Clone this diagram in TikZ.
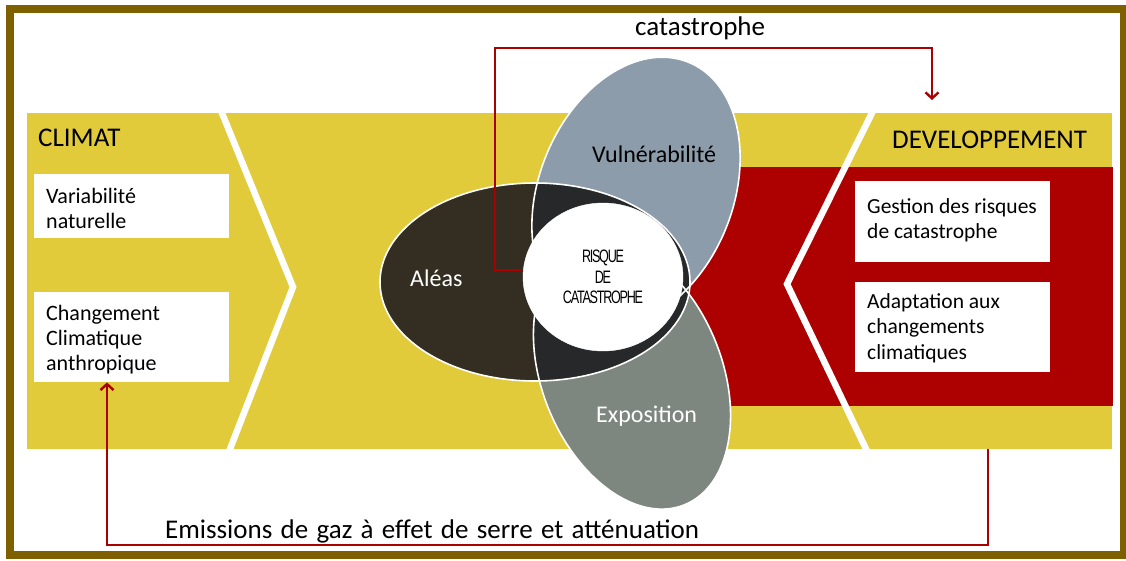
\documentclass[tikz,border=0pt]{standalone}
\usepackage{fontspec}
\setmainfont{Carlito}
\newfontfamily\arialf[LetterSpace=-10]{Liberation Sans}
\usetikzlibrary{arrows.meta,shapes.geometric}
\definecolor{bandyellow}{HTML}{E1CB3B}
\definecolor{framebrown}{HTML}{7F6000}
\definecolor{devred}{HTML}{AD0000}
\definecolor{connred}{HTML}{AA0000}
\definecolor{aleascol}{HTML}{332E21}
\definecolor{vulncol}{HTML}{8C9CAA}
\definecolor{expocol}{HTML}{7E877F}
\definecolor{ovlcol}{HTML}{26282A}
\begin{document}
\begin{tikzpicture}[x=1pt,y=-1pt,
  lbl/.style={inner sep=0pt, anchor=base west},
  whitebox/.style={fill=white, draw=none, inner sep=0pt, anchor=north west, minimum width=195pt},
  conn/.style={draw=connred, line width=2.4pt},
  tip/.style={-{Straight Barb[length=6pt,width=13pt]}},
  petal/.style={draw=white, line width=1.6pt},
  chev/.style={draw=white, line width=6.5pt, line join=miter},
  boxfont/.style={font=\fontsize{22}{25}\selectfont},
  rboxfont/.style={font=\fontsize{21.5}{25.5}\selectfont},
  bigfont/.style={font=\fontsize{27}{30}\selectfont},
  petalfont/.style={font=\fontsize{24}{28}\selectfont}]
\useasboundingbox (0,0) rectangle (1126,560);
\fill[white] (0,0) rectangle (1126,560);
% frame
\draw[framebrown, line width=8pt] (10,9) rectangle (1124,555);
% band and development block
\node[fill=bandyellow, draw=none, inner sep=0pt, anchor=north west, minimum width=1085pt, minimum height=336pt] (band) at (27,113) {};
\node[fill=devred, draw=none, inner sep=0pt, anchor=north west, minimum width=473pt, minimum height=239pt] (dev) at (640,167) {};
% chevrons
\begin{scope}
  \clip (27,113) rectangle (1112,449);
  \draw[chev] (213.8,93) -- (293,287) -- (222.2,469);
  \draw[chev] (881.9,93) -- (787,284) -- (875.6,469);
\end{scope}
% petals fills
\fill[vulncol, rotate around={68:(636,192)}] (636,192) ellipse [x radius=140, y radius=97];
\fill[expocol, rotate around={-68:(632,375)}] (632,375) ellipse [x radius=140, y radius=90];
\fill[aleascol] (535,282) ellipse [x radius=155, y radius=99];
\begin{scope}
  \clip (535,282) ellipse [x radius=155, y radius=99];
  \fill[ovlcol, rotate around={68:(636,192)}] (636,192) ellipse [x radius=140, y radius=97];
  \fill[ovlcol, rotate around={-68:(632,375)}] (632,375) ellipse [x radius=140, y radius=90];
\end{scope}
% petals outlines
\draw[petal, rotate around={68:(636,192)}] (636,192) ellipse [x radius=140, y radius=97];
\draw[petal, rotate around={-68:(632,375)}] (632,375) ellipse [x radius=140, y radius=90];
\draw[petal] (535,282) ellipse [x radius=155, y radius=99];
% petal labels
\node[lbl, petalfont, text=black] (vuln) at (592,162) {Vulnérabilité};
\node[lbl, petalfont, text=white] (aleas) at (410,286) {Aléas};
\node[lbl, petalfont, text=white] (expo) at (596,422) {Exposition};
% boxes
\node[whitebox, minimum height=64pt] (lb1) at (34,174) {};
\node[whitebox, minimum height=90pt] (lb2) at (34,292) {};
\node[whitebox, minimum height=81pt] (rb1) at (855,181) {};
\node[whitebox, minimum height=90pt] (rb2) at (855,282) {};
\node[lbl, boxfont] (lt1) at (46,203) {\parbox[t]{180pt}{Variabilité\\naturelle}};
\node[lbl, boxfont] (lt2) at (46,320) {\parbox[t]{180pt}{Changement\\Climatique\\anthropique}};
\node[lbl, rboxfont] (rt1) at (867,213) {\parbox[t]{180pt}{Gestion des risques\\de catastrophe}};
\node[lbl, rboxfont] (rt2) at (867,308) {\parbox[t]{180pt}{Adaptation aux\\changements\\climatiques}};
% titles
\node[lbl, bigfont] (climat) at (38,146) {CLIMAT};
\node[lbl, bigfont] (devel) at (892,148) {DEVELOPPEMENT};
\node[lbl, bigfont] (catas) at (635,35) {catastrophe};
\node[lbl, bigfont] (emis) at (165,538) {\spaceskip=8.3pt Emissions de gaz à effet de serre et atténuation};
% central circle (placed, drawn later)
\path (602,277) node[ellipse, minimum width=160pt, minimum height=148pt, inner sep=0pt] (circ) {};
% connectors
\coordinate (t1) at (495,48);
\coordinate (t2) at (932,48);
\coordinate (t3) at (932,100);
\draw[conn, tip] (circ.175) -- (circ.175 -| t1) -- (t1) -- (t2) -- (t3);
\coordinate (b1) at (988,449);
\coordinate (b2) at (988,545);
\coordinate (b3) at (107,545);
\draw[conn, tip] (b1) -- (b2) -- (b3) -- (b3 |- lb2.south);
% circle on top
\node[ellipse, fill=white, draw=white, minimum width=160pt, minimum height=148pt, inner sep=0pt, align=center,
  font=\arialf\fontsize{18}{20.5}\selectfont] (circtext) at (603,277)
  {\scalebox{0.7}[1]{RISQUE}\\\scalebox{0.7}[1]{DE}\\\scalebox{0.7}[1]{CATASTROPHE}};
\end{tikzpicture}
\end{document}
